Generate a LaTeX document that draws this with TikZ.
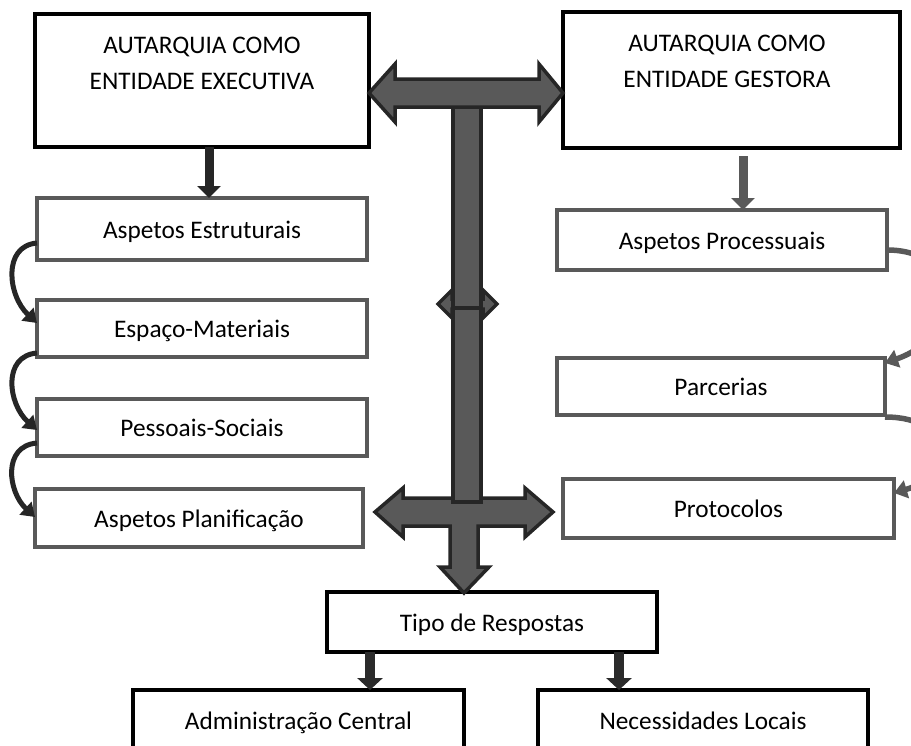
\documentclass[tikz,border=0pt]{standalone}
\usepackage{fontspec}
\setmainfont{Carlito}
\usetikzlibrary{arrows.meta}
\definecolor{dg}{HTML}{262626}
\definecolor{mg}{HTML}{595959}
\begin{document}
\begin{tikzpicture}[x=1pt,y=-1pt,
  every node/.style={font=\fontsize{25.3}{36}\selectfont, inner sep=0pt, outer sep=0pt},
  blackbox/.style={draw=black, line width=4.5pt, fill=white, text height=20pt, text depth=2pt},
  graybox/.style={draw=mg, line width=3.5pt, fill=white, text height=20pt, text depth=2pt},
  txt/.style={align=center},
  bigarrow/.style={fill=mg, draw=dg, line width=3.5pt, line join=miter},
  arrowdark/.style={draw=dg, line width=9pt, -{Triangle[length=12pt,width=23pt]}},
  arrowgray/.style={draw=mg, line width=9pt, -{Triangle[length=12pt,width=23pt]}},
  arrowblk/.style={draw=dg!90!mg, line width=10pt, -{Triangle[length=12pt,width=25pt]}},
  curvedark/.style={draw=dg, line width=5pt, -{Triangle[length=13pt,width=17pt]}},
  curvegray/.style={draw=mg, line width=5.5pt, -{Triangle[length=13pt,width=18pt]}}]
\useasboundingbox (0,0) rectangle (911,745);
\clip (0,0) rectangle (911,745);

% top boxes
\node[blackbox, minimum width=334pt, minimum height=133pt] (ent1) at (202,80.5) {};
\node[txt] (ent1t) at (202,63) {AUTARQUIA COMO\\ENTIDADE EXECUTIVA};
\node[blackbox, minimum width=337pt, minimum height=136pt] (ent2) at (731.5,80) {};
\node[txt] (ent2t) at (727,61) {AUTARQUIA COMO\\ENTIDADE GESTORA};

% left column
\node[graybox, minimum width=330pt, minimum height=62pt] (est) at (202,229) {Aspetos Estruturais};
\node[graybox, minimum width=330pt, minimum height=57pt] (esp) at (202,328.5) {Espaço-Materiais};
\node[graybox, minimum width=330pt, minimum height=57pt] (pes) at (202,427.5) {Pessoais-Sociais};
\node[graybox, minimum width=328pt, minimum height=58pt] (pla) at (199,518) {Aspetos Planificação};

% right column
\node[graybox, minimum width=330pt, minimum height=60pt] (pro) at (722,240) {Aspetos Processuais};
\node[graybox, minimum width=328pt, minimum height=57pt] (par) at (721,386.5) {Parcerias};
\node[graybox, minimum width=331pt, minimum height=59pt] (prot) at (728.5,508.5) {Protocolos};

% bottom
\node[blackbox, minimum width=330pt, minimum height=60pt] (tipo) at (492,622) {Tipo de Respostas};
\node[blackbox, minimum width=331pt, minimum height=60pt] (adm) at (298.5,720) {Administração Central};
\node[blackbox, minimum width=330pt, minimum height=60pt] (nec) at (703,720) {Necessidades Locais};

% big central arrows
\draw[bigarrow] (375,512) -- (403,488) -- (403,498) -- (525,498) -- (525,488) -- (553,512)
  -- (525,537) -- (525,526) -- (478,526) -- (478,567) -- (489,567) -- (464,593)
  -- (440,567) -- (450,567) -- (450,526) -- (403,526) -- (403,537) -- cycle;
\draw[bigarrow] (438,304) -- (452,290) -- (452,299) -- (483,299) -- (483,290) -- (497,304)
  -- (483,318) -- (483,309) -- (452,309) -- (452,318) -- cycle;
\draw[bigarrow] (453,107) rectangle (481,308);
\draw[bigarrow] (453,308) rectangle (481,502);
\draw[bigarrow] (369,93) -- (395,64) -- (395,79) -- (539,79) -- (539,64) -- (563,93)
  -- (539,122) -- (539,107) -- (395,107) -- (395,122) -- cycle;

% straight connectors
\draw[arrowdark] ([xshift=7pt]ent1.south) -- ([xshift=7pt]est.north);
\coordinate (g0) at (743,156);
\draw[arrowgray] (g0) -- ([xshift=21pt]pro.north);
\draw[arrowblk] ([xshift=-122pt]tipo.south) -- ([xshift=71.5pt]adm.north);
\draw[arrowblk] ([xshift=127pt]tipo.south) -- ([xshift=-84pt]nec.north);

% curved connectors left
\draw[curvedark] ([yshift=-14pt]est.west) .. controls (2,246) and (8,296) .. ([yshift=5.5pt]esp.west);
\draw[curvedark] ([yshift=-24.5pt]esp.west) .. controls (2,356) and (8,404) .. ([yshift=-2.5pt]pes.west);
\draw[curvedark] ([yshift=-15.5pt]pes.west) .. controls (2,446) and (8,492) .. ([yshift=1pt]pla.west);

% curved connectors right
\draw[curvegray] ([yshift=-10pt]pro.east) .. controls (965,250) and (965,335) .. ([yshift=23.5pt]par.east);
\draw[curvegray] ([yshift=-30.5pt]par.east) .. controls (955,417) and (955,475) .. ([yshift=15.5pt]prot.east);
\end{tikzpicture}
\end{document}
